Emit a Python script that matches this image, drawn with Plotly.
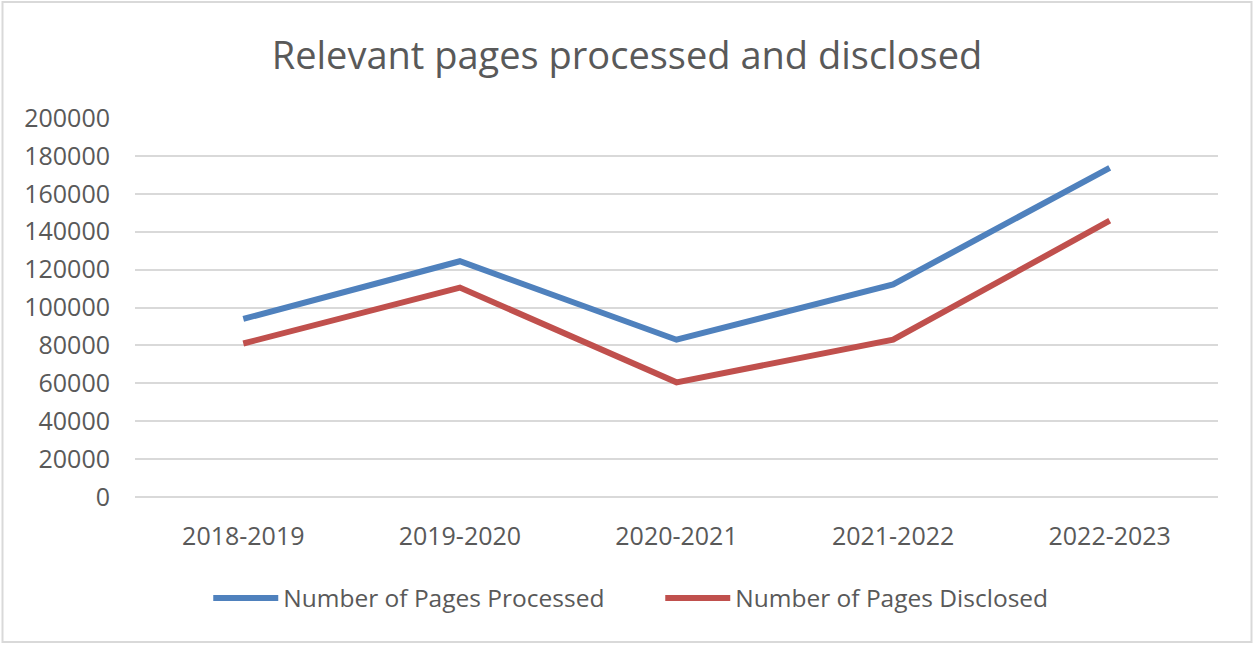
import plotly.graph_objects as go

categories = ["2018-2019", "2019-2020", "2020-2021", "2021-2022", "2022-2023"]
processed = [94000, 124400, 83000, 112200, 173700]
disclosed = [81000, 110500, 60500, 83000, 145800]
y_ticks = list(range(0, 200001, 20000))

W, H = 1254, 645
L, R, T, B = 135, 36, 118, 148
pw = W - L - R
ph = H - T - B

font_fam = "Open Sans, Noto Sans, sans-serif"
txt = "#595959"

fig = go.Figure()
fig.add_trace(go.Scatter(x=categories, y=processed, mode="lines",
                         name="Number of Pages Processed",
                         line=dict(color="#4F81BD", width=6)))
fig.add_trace(go.Scatter(x=categories, y=disclosed, mode="lines",
                         name="Number of Pages Disclosed",
                         line=dict(color="#C0504D", width=6)))

def px_x(p):
    return (p - L) / pw

def px_y(p):
    return 1 - (p - T) / ph

fig.update_layout(
    width=W, height=H,
    margin=dict(l=L, r=R, t=T, b=B, autoexpand=False),
    paper_bgcolor="white", plot_bgcolor="white",
    font=dict(family=font_fam, color=txt),
    title=dict(text="Relevant pages processed and disclosed",
               x=0.5, xanchor="center", y=1 - 56 / H, yanchor="middle",
               font=dict(size=38, color=txt, family=font_fam)),
    xaxis=dict(type="category", range=[-0.5, 4.5], showgrid=False,
               showline=False, zeroline=False, ticks="",
               tickfont=dict(size=25, color=txt), ticklabelstandoff=22),
    yaxis=dict(range=[0, 200000], tickvals=y_ticks,
               ticktext=[str(v) for v in y_ticks],
               showgrid=True, gridcolor="#d9d9d9", gridwidth=2,
               zeroline=True, zerolinecolor="#d9d9d9", zerolinewidth=2,
               showline=False, ticks="",
               tickfont=dict(size=25, color=txt), ticklabelstandoff=24),
    showlegend=True,
    legend=dict(orientation="h", x=0.485, xanchor="center",
                y=px_y(598), yanchor="middle",
                font=dict(size=24.5, color=txt),
                itemwidth=65, entrywidth=372, entrywidthmode="pixels",
                tracegroupgap=0),
    shapes=[dict(type="rect", xref="paper", yref="paper",
                 x0=px_x(2.5), x1=px_x(W - 2.5),
                 y0=px_y(2), y1=px_y(H - 3),
                 line=dict(color="#d9d9d9", width=2), layer="below")],
)

fig.write_html("out.html", config={"displayModeBar": False},
               post_script="document.body.style.margin='0';")
